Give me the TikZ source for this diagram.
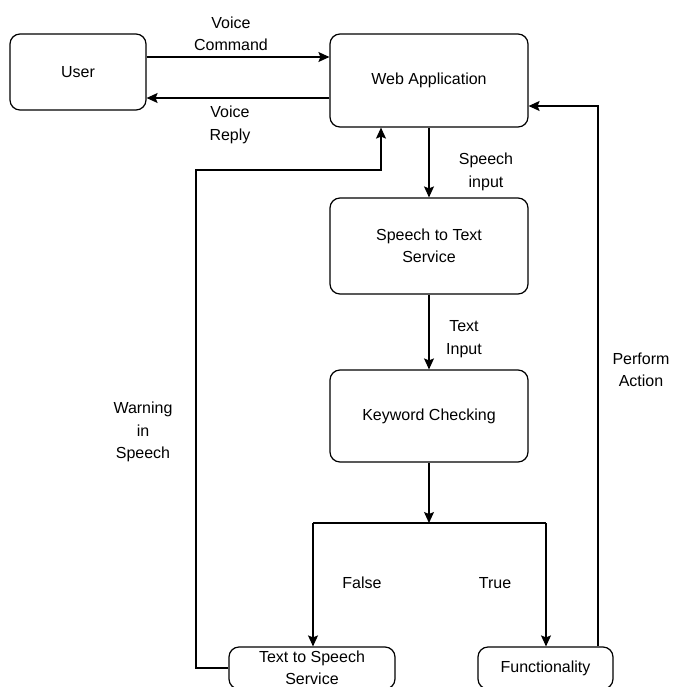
\documentclass[tikz,border=0pt]{standalone}
\usepackage{fontspec}
\setmainfont{Liberation Sans}
\usetikzlibrary{arrows.meta}
\begin{document}
\begin{tikzpicture}[x=1pt,y=-1pt,
  box/.style={draw=black,line width=1.2pt,rounded corners=10pt,align=center,inner sep=0pt,
    font=\fontsize{16}{22.5}\selectfont},
  lbl/.style={align=center,inner sep=0pt,font=\fontsize{16}{22.5}\selectfont},
  conn/.style={draw=black,line width=1.2pt},
  arr/.style={conn,-{Stealth[length=11pt,width=10pt,inset=2pt]}}]
\useasboundingbox (0,0) rectangle (694,686);
\clip (0,0) rectangle (694,686);
\node[box,minimum width=136pt,minimum height=76pt] (user) at (78,72) {User};
\node[box,minimum width=198pt,minimum height=93pt] (web) at (429,80.5) {Web Application};
\node[box,minimum width=198pt,minimum height=96pt] (stt) at (429,246) {Speech to Text\\Service};
\node[box,minimum width=198pt,minimum height=92pt] (kw) at (429,416) {Keyword Checking};
\node[box,minimum width=166pt,minimum height=42pt] (tts) at (312,668) {Text to Speech\\Service};
\node[box,minimum width=135pt,minimum height=42pt] (func) at (545.5,668) {Functionality};
\coordinate (br) at (429,523);
\coordinate (bl) at (313,523);
\coordinate (brr) at (546,523);
\coordinate (wl) at (196,170);
\coordinate (pr) at (598,106);
% connectors
\draw[arr] (user.east |- 0,57) -- (web.west |- 0,57);
\draw[arr] (web.west |- 0,98) -- (user.east |- 0,98);
\draw[arr] (web.south) -- (stt.north);
\draw[arr] (stt.south) -- (kw.north);
\draw[arr] (kw.south) -- (br);
\draw[conn] (bl) -- (brr);
\draw[arr] (bl) -- (bl |- tts.north);
\draw[arr] (brr) -- (brr |- func.north);
\draw[arr] (func.north -| pr) -- (pr) -- (web.east |- pr);
\draw[arr] (tts.west) -| (wl) -- (381,170) -- (web.south -| 381,0);
% labels
\node[lbl] (l1) at (231,34) {Voice\\Command};
\node[lbl] (l2) at (230,125) {Voice\\Reply};
\node[lbl] (l3) at (486,172) {Speech\\input};
\node[lbl] (l4) at (464,339) {Text\\Input};
\node[lbl] (l5) at (143,432) {Warning\\in\\Speech};
\node[lbl] (l6) at (641,370) {Perform\\Action};
\node[lbl] (l7) at (362,583) {False};
\node[lbl] (l8) at (495,583) {True};
\end{tikzpicture}
\end{document}
